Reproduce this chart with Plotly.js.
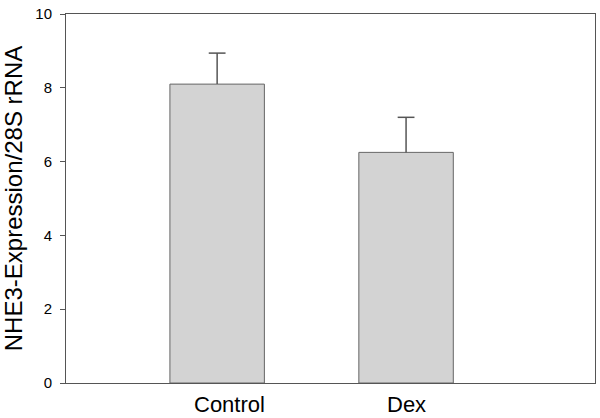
<!DOCTYPE html>
<html><head><meta charset="utf-8">
<script src="https://cdn.plot.ly/plotly-3.0.1.min.js"></script>
<style>html,body{margin:0;padding:0;background:#fff}</style>
</head><body><div id="chart" style="width:600px;height:418px"></div>
<script>
const categories = ["Control", "Dex"];
const values = [8.10, 6.25];
const errors = [0.84, 0.95];
const yTicks = [0, 2, 4, 6, 8, 10];

const barTrace = {
  type: 'bar', x: categories, y: values, width: 0.5,
  marker: {color: '#d3d3d3', line: {color: '#666666', width: 1}},
  hoverinfo: 'none'
};
// upper error bar only: a stem down to the bar top, and a cap marker at the top
const errTrace = {
  type: 'scatter', mode: 'markers', x: categories,
  y: values.map((v, i) => v + errors[i]),
  marker: {symbol: 'line-ew', size: 12, color: '#555555', line: {color: '#555555', width: 1.5}},
  error_y: {type: 'data', symmetric: false, array: errors.map(() => 0), arrayminus: errors,
            visible: true, color: '#555555', thickness: 1.5, width: 0},
  hoverinfo: 'none'
};
const labelShift = [12, 0];
const layout = {
  width: 600, height: 418,
  margin: {l: 66, r: 5, t: 14, b: 35},
  paper_bgcolor: '#fff', plot_bgcolor: '#fff',
  font: {family: 'Liberation Sans, Arial, sans-serif', color: '#000'},
  showlegend: false,
  xaxis: {range: [-0.8, 2.0], showgrid: false, zeroline: false, showline: true, mirror: true,
          linecolor: '#555', linewidth: 1, ticks: '', showticklabels: false, fixedrange: true},
  yaxis: {range: [0, 10], tickvals: yTicks, ticktext: yTicks.map(String), showgrid: false, zeroline: false,
          showline: true, mirror: true, linecolor: '#555', linewidth: 1, ticks: 'outside', ticklen: 5,
          tickcolor: '#555', tickfont: {size: 15}, ticklabelstandoff: 5,
          title: {text: 'NHE3-Expression/28S rRNA', font: {size: 24}, standoff: 10}},
  annotations: categories.map((c, i) => ({
    x: c, xref: 'x', y: 0, yref: 'paper', yanchor: 'middle', xanchor: 'center',
    yshift: -21, xshift: labelShift[i], showarrow: false, text: c, font: {size: 22, color: '#000'}
  }))
};
Plotly.newPlot('chart', [barTrace, errTrace], layout, {displayModeBar: false, staticPlot: true});
</script></body></html>
